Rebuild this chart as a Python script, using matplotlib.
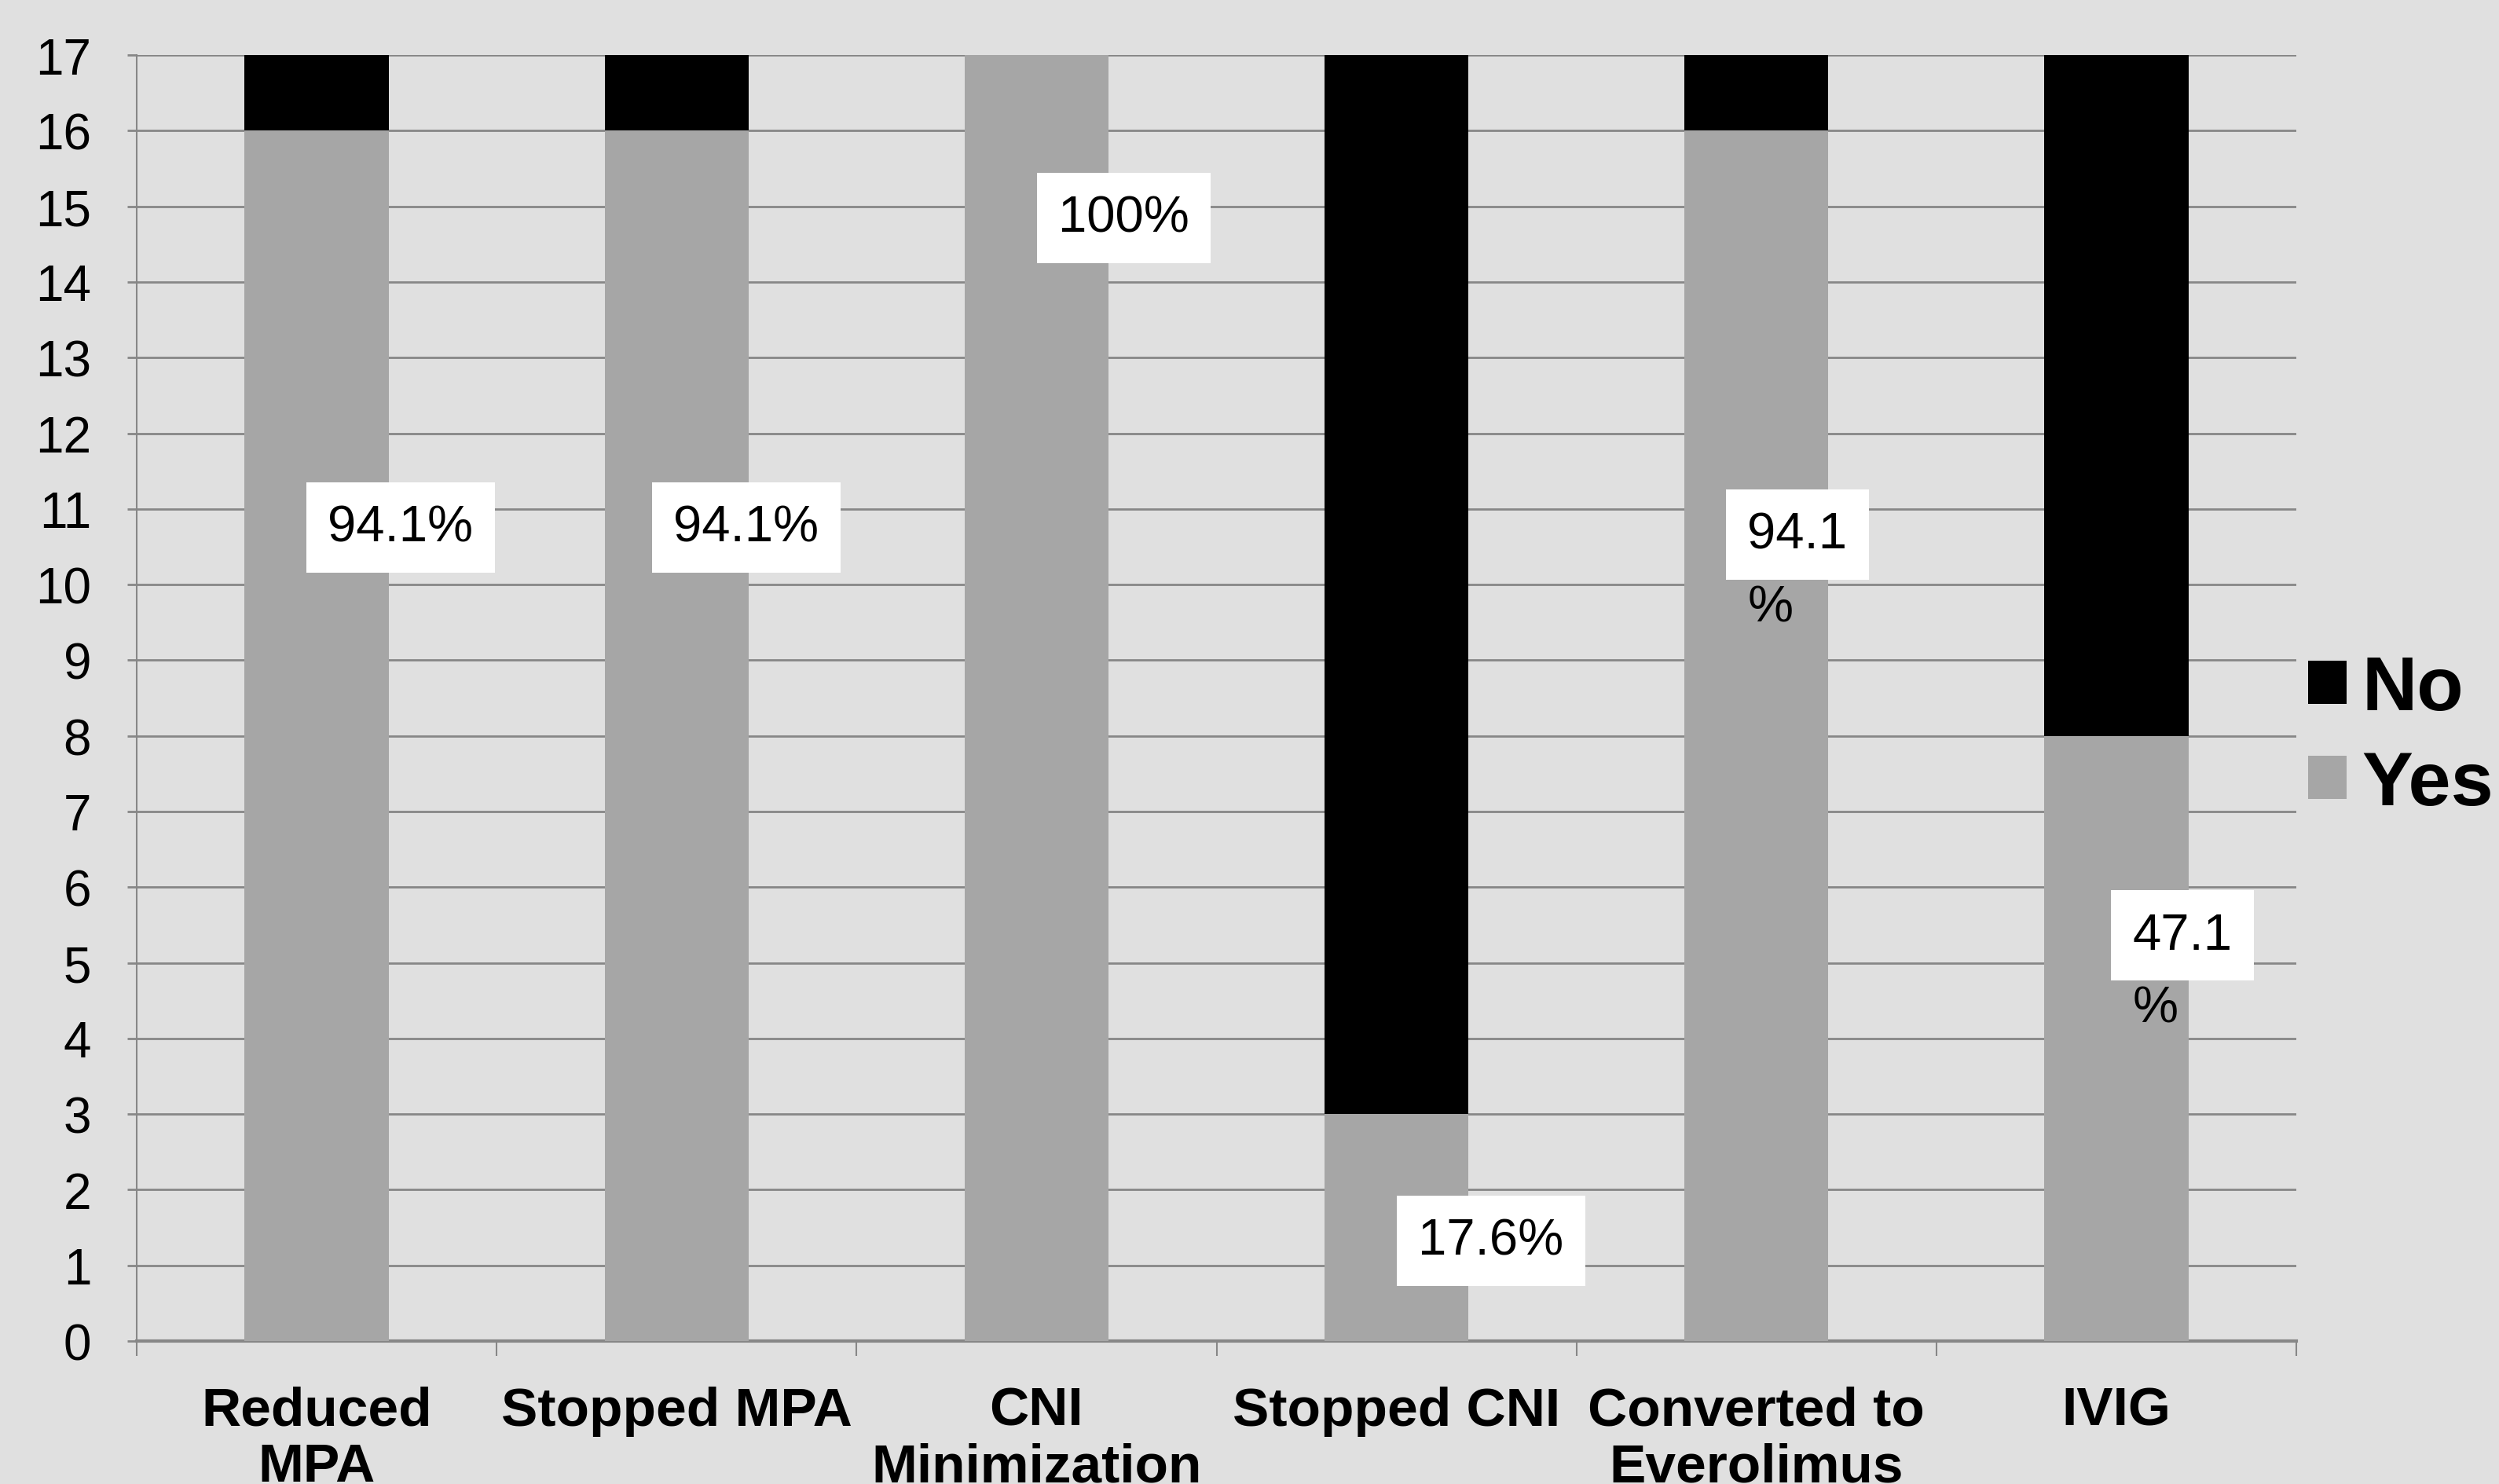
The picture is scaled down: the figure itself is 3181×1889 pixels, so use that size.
import numpy as np
import matplotlib
matplotlib.use("Agg")
import matplotlib.pyplot as plt

plt.rcParams['font.family'] = ['Liberation Sans', 'DejaVu Sans']

# data (17 patients)
categories = ["Reduced\nMPA", "Stopped MPA", "CNI\nMinimization",
              "Stopped CNI", "Converted to\nEverolimus", "IVIG"]
yes_counts = [16, 16, 17, 3, 16, 8]
no_counts = [1, 1, 0, 14, 1, 9]
label_texts = ["94.1%", "94.1%", "100%", "17.6%", "94.1\n%", "47.1\n%"]

# where the (hand placed) data labels sit: offset from bar centre, y centre
label_dx = [-0.03, -0.07, 0.0, 0.0, -0.086, -0.015]
label_y = [10.75, 10.75, 14.85, 1.32, 10.66, 5.36]

bg = "#e0e0e0"
yes_col = "#a6a6a6"
no_col = "#000000"
line_col = "#878787"

fig = plt.figure(figsize=(31.81, 18.90), dpi=100, facecolor=bg)
ax = fig.add_axes([0.0547, 0.0963, 0.9189 - 0.0547, 0.9624 - 0.0963])
ax.set_facecolor(bg)

x = np.arange(len(categories))
ax.bar(x, yes_counts, width=0.4, color=yes_col, label="Yes", zorder=3)
ax.bar(x, no_counts, width=0.4, bottom=yes_counts, color=no_col, label="No", zorder=3)

ax.set_xlim(-0.5, len(categories) - 0.5)
ax.set_ylim(0, 17)
ax.set_yticks(range(0, 18))
ax.yaxis.grid(True, color=line_col, linewidth=2.0, zorder=0)
ax.set_axisbelow(True)

ax.set_xticks(x)
ax.set_xticklabels(categories, fontsize=50, fontweight="bold", linespacing=1.15, va="top")
ax.set_xticks(np.arange(-0.5, len(categories)), minor=True)
ax.tick_params(axis="x", which="major", length=0, pad=41)
ax.tick_params(axis="x", which="minor", length=14, width=1.5, color=line_col)
ax.tick_params(axis="y", length=8.6, width=2.0, color=line_col, labelsize=46, pad=33)

for side in ["top", "right"]:
    ax.spines[side].set_visible(False)
ax.spines["left"].set_color(line_col)
ax.spines["left"].set_linewidth(1.5)
ax.spines["bottom"].set_color(line_col)
ax.spines["bottom"].set_linewidth(3)

# data labels in white boxes
for i, txt in enumerate(label_texts):
    lines = txt.split("\n")
    ax.annotate(lines[0], (x[i] + label_dx[i], label_y[i]), xytext=(20, 0),
                textcoords="offset points", ha="left", va="center", fontsize=47,
                bbox=dict(boxstyle="square,pad=0.42", fc="white", ec="none"), zorder=5)
    for k, extra in enumerate(lines[1:], start=1):
        ax.annotate(extra, (x[i] + label_dx[i], label_y[i]), xytext=(20, -67 * k),
                    textcoords="offset points", ha="left", va="center", fontsize=47,
                    zorder=5)

handles, labels = ax.get_legend_handles_labels()
fig.legend(handles[::-1], labels[::-1], loc="center left", bbox_to_anchor=(0.9236, 0.503),
           frameon=False, borderpad=0, borderaxespad=0, handlelength=0.5, handleheight=0.5,
           handletextpad=0.2, labelspacing=0.32, prop={"size": 70, "weight": "bold"})

fig.savefig("out.png", dpi=100, facecolor=bg)
